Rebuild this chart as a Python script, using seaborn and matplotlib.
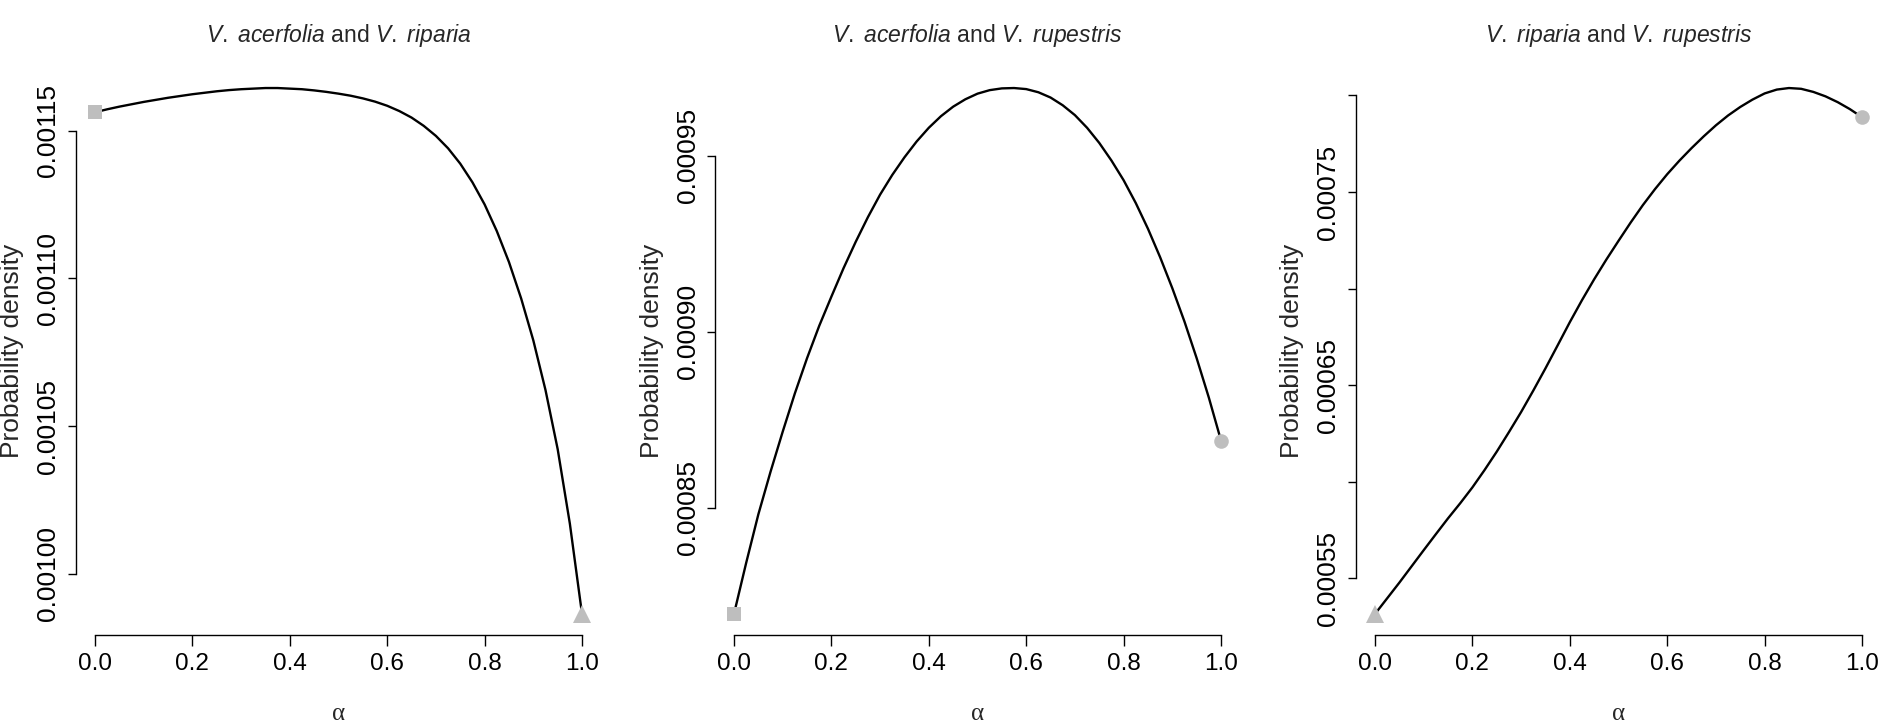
import matplotlib
matplotlib.use("Agg")
import matplotlib.pyplot as plt
import seaborn as sns

# Posterior density of the admixture proportion alpha for each species pair
alpha_grid = [0.000, 0.025, 0.050, 0.075, 0.100, 0.125, 0.150, 0.175, 0.200,
              0.225, 0.250, 0.275, 0.300, 0.325, 0.350, 0.375, 0.400, 0.425,
              0.450, 0.475, 0.500, 0.525, 0.550, 0.575, 0.600, 0.625, 0.650,
              0.675, 0.700, 0.725, 0.750, 0.775, 0.800, 0.825, 0.850, 0.875,
              0.900, 0.925, 0.950, 0.975, 1.000]

dens_ar = [0.0011562, 0.0011572, 0.0011581, 0.0011589, 0.0011597, 0.0011604,
           0.0011611, 0.0011617, 0.0011623, 0.0011628, 0.0011633, 0.0011637,
           0.0011640, 0.0011642, 0.0011644, 0.0011644, 0.0011642, 0.0011640,
           0.0011636, 0.0011631, 0.0011625, 0.0011618, 0.0011609, 0.0011598,
           0.0011584, 0.0011566, 0.0011544, 0.0011516, 0.0011482, 0.0011440,
           0.0011388, 0.0011325, 0.0011250, 0.0011160, 0.0011055, 0.0010932,
           0.0010790, 0.0010622, 0.0010422, 0.0010170, 0.0009864]

dens_au = [0.0008198, 0.0008343, 0.0008481, 0.0008602, 0.0008716, 0.0008825,
           0.0008925, 0.0009017, 0.0009100, 0.0009181, 0.0009256, 0.0009326,
           0.0009390, 0.0009446, 0.0009496, 0.0009541, 0.0009580, 0.0009613,
           0.0009640, 0.0009661, 0.0009677, 0.0009687, 0.0009692, 0.0009693,
           0.0009690, 0.0009681, 0.0009666, 0.0009644, 0.0009616, 0.0009580,
           0.0009537, 0.0009487, 0.0009431, 0.0009366, 0.0009293, 0.0009212,
           0.0009124, 0.0009029, 0.0008925, 0.0008813, 0.0008691]

dens_ru = [0.0005316, 0.0005397, 0.0005478, 0.0005562, 0.0005646, 0.0005729,
           0.0005811, 0.0005889, 0.0005971, 0.0006061, 0.0006156, 0.0006257,
           0.0006361, 0.0006472, 0.0006587, 0.0006706, 0.0006826, 0.0006940,
           0.0007048, 0.0007150, 0.0007247, 0.0007342, 0.0007432, 0.0007515,
           0.0007592, 0.0007662, 0.0007727, 0.0007788, 0.0007845, 0.0007896,
           0.0007940, 0.0007978, 0.0008010, 0.0008030, 0.0008038, 0.0008034,
           0.0008018, 0.0007995, 0.0007965, 0.0007929, 0.0007887]

titles = [r"$\mathit{V.\ acerfolia}$ and $\mathit{V.\ riparia}$",
          r"$\mathit{V.\ acerfolia}$ and $\mathit{V.\ rupestris}$",
          r"$\mathit{V.\ riparia}$ and $\mathit{V.\ rupestris}$"]

x_ticks = [0.0, 0.2, 0.4, 0.6, 0.8, 1.0]
x_ticklabels = ["0.0", "0.2", "0.4", "0.6", "0.8", "1.0"]

y_ticks_ar = [0.00100, 0.00105, 0.00110, 0.00115]
y_labels_ar = ["0.00100", "0.00105", "0.00110", "0.00115"]
y_ticks_au = [0.00085, 0.00090, 0.00095]
y_labels_au = ["0.00085", "0.00090", "0.00095"]
y_ticks_ru = [0.00055, 0.00060, 0.00065, 0.00070, 0.00075, 0.00080]
y_labels_ru = ["0.00055", "", "0.00065", "", "0.00075", ""]

# end-point markers: (start, end)
end_markers = [("s", "^"), ("s", "o"), ("^", "o")]

sns.set_theme(style="white")
plt.rcParams.update({
    "font.family": ["Liberation Sans", "DejaVu Sans"],
    "mathtext.fontset": "custom",
    "mathtext.rm": "Liberation Sans",
    "mathtext.it": "Liberation Sans:italic",
    "axes.edgecolor": "black",
    "axes.linewidth": 1.0,
    "xtick.color": "black",
    "ytick.color": "black",
})

W, H = 1886, 728
fig = plt.figure(figsize=(W / 100, H / 100), dpi=100)
fig.patch.set_facecolor("white")

panels = [
    (dens_ar, y_ticks_ar, y_labels_ar),
    (dens_au, y_ticks_au, y_labels_au),
    (dens_ru, y_ticks_ru, y_labels_ru),
]
lefts = [75.5, 714.5, 1355.5]
ax_w, ax_h, ax_bottom = 526.0, 568.0, 93.0
grey = "#BEBEBE"
marker_sizes = {"s": 10.5, "o": 10.5, "^": 12.5}

for i, (d, yt, yl) in enumerate(panels):
    a = alpha_grid
    ax = fig.add_axes([lefts[i] / W, ax_bottom / H, ax_w / W, ax_h / H])
    ax.set_facecolor("white")
    sns.lineplot(x=a, y=d, ax=ax, color="black", linewidth=1.7,
                 estimator=None, sort=False, solid_joinstyle="round")
    m0, m1 = end_markers[i]
    ax.plot([a[0]], [d[0]], marker=m0, color=grey, ms=marker_sizes[m0],
            linestyle="none", zorder=3, markeredgewidth=0)
    ax.plot([a[-1]], [d[-1]], marker=m1, color=grey, ms=marker_sizes[m1],
            linestyle="none", zorder=3, markeredgewidth=0)
    ax.margins(x=0.04, y=0.04)

    ax.set_xticks(x_ticks)
    ax.set_xticklabels(x_ticklabels, fontsize=17.5)
    ax.set_yticks(yt)
    ax.set_yticklabels(yl, fontsize=19, rotation=90, va="center")

    for side in ("top", "right"):
        ax.spines[side].set_visible(False)
    ax.spines["left"].set_bounds(yt[0], yt[-1])
    ax.spines["bottom"].set_bounds(0.0, 1.0)
    ax.tick_params(axis="x", direction="out", length=7.7, width=1.0, pad=5.5,
                   bottom=True)
    ax.tick_params(axis="y", direction="out", length=5.8, width=1.0, pad=5.0,
                   left=True)
    ax.grid(False)

    ax.set_ylabel("Probability density", fontsize=19, va="center")
    ax.yaxis.set_label_coords(-63.0 / ax_w, 0.5)
    ax.set_xlabel("α", fontsize=18, family=["Liberation Serif", "DejaVu Serif"],
                  va="center")
    ax.xaxis.set_label_coords(0.5, -79.0 / ax_h)

    ax.text(0.5, 1 + 25.0 / ax_h, titles[i], transform=ax.transAxes,
            ha="center", va="baseline", fontsize=16.5)

fig.savefig("out.png", dpi=100, facecolor="white")
